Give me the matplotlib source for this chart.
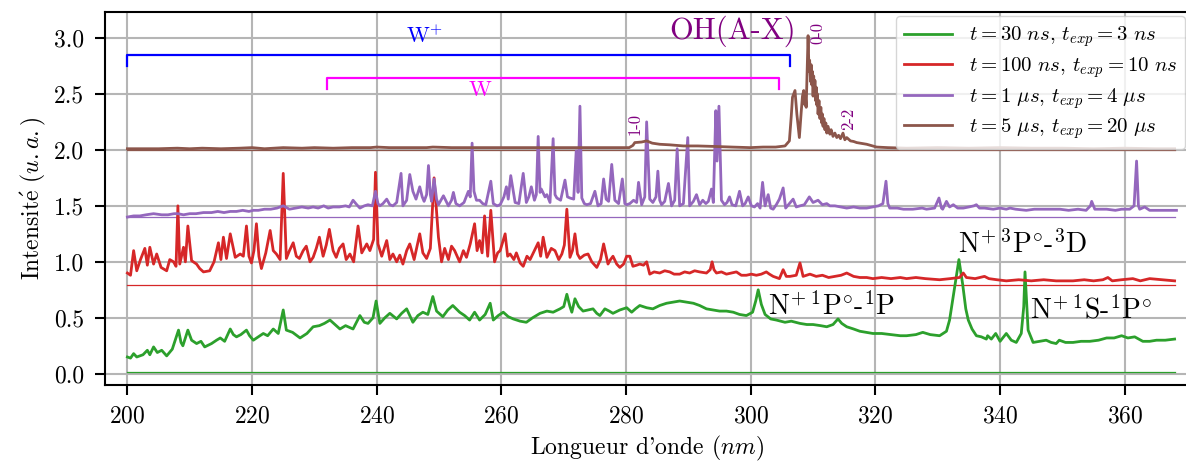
import numpy as np
import matplotlib
matplotlib.use("Agg")
import matplotlib.pyplot as plt

plt.rcParams['font.family'] = ['cmr10', 'DejaVu Serif']
plt.rcParams['mathtext.fontset'] = 'cm'
plt.rcParams['axes.formatter.use_mathtext'] = True

# ── spectra: (wavelength nm, intensity a.u.) ─────────────────────────────────
green = np.array([
    (200.0, 0.15), (200.5, 0.14), (201.0, 0.18), (201.5, 0.15), (202.5, 0.17), (203.2, 0.21),
    (203.6, 0.17), (204.2, 0.24), (204.8, 0.19), (205.5, 0.21), (206.3, 0.16), (207.2, 0.22),
    (208.2, 0.39), (208.6, 0.28), (208.9, 0.25), (209.7, 0.39), (210.3, 0.30), (211.1, 0.27),
    (211.8, 0.29), (212.4, 0.24), (213.5, 0.27), (214.3, 0.30), (214.9, 0.32), (215.6, 0.29),
    (216.5, 0.40), (217.0, 0.35), (217.5, 0.33), (218.2, 0.35), (219.1, 0.39), (219.6, 0.34),
    (220.2, 0.30), (221.0, 0.33), (221.8, 0.36), (222.5, 0.34), (223.4, 0.40), (224.2, 0.36),
    (225.0, 0.57), (225.5, 0.39), (226.5, 0.37), (227.7, 0.32), (228.8, 0.36), (229.8, 0.42),
    (230.8, 0.43), (231.6, 0.45), (232.5, 0.48), (233.3, 0.44), (234.1, 0.40), (235.0, 0.43),
    (236.2, 0.40), (237.3, 0.52), (238.0, 0.46), (238.6, 0.45), (239.4, 0.50), (239.9, 0.65),
    (240.5, 0.45), (241.3, 0.50), (242.1, 0.54), (243.2, 0.49), (244.0, 0.54), (244.8, 0.58),
    (245.8, 0.46), (246.6, 0.52), (247.4, 0.55), (248.2, 0.53), (249.0, 0.69), (249.6, 0.56),
    (250.6, 0.51), (251.4, 0.57), (252.2, 0.61), (253.3, 0.55), (254.1, 0.52), (254.9, 0.48),
    (255.7, 0.55), (256.5, 0.48), (257.4, 0.53), (258.2, 0.63), (258.7, 0.48), (259.5, 0.52),
    (260.3, 0.55), (261.1, 0.51), (261.9, 0.49), (263.0, 0.47), (264.0, 0.46), (265.0, 0.50),
    (266.2, 0.54), (267.3, 0.56), (268.3, 0.55), (269.4, 0.58), (270.0, 0.60), (270.5, 0.71),
    (271.0, 0.60), (271.3, 0.55), (271.8, 0.67), (272.4, 0.60), (273.1, 0.56), (273.9, 0.57),
    (274.7, 0.58), (275.3, 0.54), (275.8, 0.52), (276.6, 0.58), (277.3, 0.56), (277.9, 0.54),
    (279.0, 0.57), (280.1, 0.59), (280.9, 0.55), (281.5, 0.58), (282.2, 0.61), (283.3, 0.59),
    (284.3, 0.58), (285.4, 0.61), (286.5, 0.63), (287.5, 0.64), (288.6, 0.65), (289.7, 0.64),
    (290.8, 0.63), (291.8, 0.61), (292.9, 0.58), (294.0, 0.57), (295.0, 0.56), (296.1, 0.56),
    (297.2, 0.55), (298.2, 0.53), (299.3, 0.52), (300.3, 0.55), (300.8, 0.65), (301.2, 0.75),
    (301.7, 0.62), (302.3, 0.53), (303.2, 0.49), (304.1, 0.48), (305.5, 0.46), (306.5, 0.47),
    (307.9, 0.45), (309.0, 0.44), (310.0, 0.44), (311.2, 0.43), (312.2, 0.42), (313.2, 0.44),
    (314.0, 0.49), (314.6, 0.45), (315.4, 0.42), (316.5, 0.40), (317.5, 0.38), (318.6, 0.37),
    (319.6, 0.36), (321.0, 0.36), (322.5, 0.35), (324.0, 0.34), (325.0, 0.34), (326.5, 0.35),
    (327.6, 0.37), (328.8, 0.35), (330.3, 0.34), (331.4, 0.38), (331.9, 0.48), (332.7, 0.77),
    (333.4, 1.02), (334.0, 0.80), (334.5, 0.58), (334.9, 0.48), (335.5, 0.40), (336.2, 0.34),
    (337.0, 0.33), (337.8, 0.31), (338.0, 0.34), (338.6, 0.31), (339.3, 0.36), (340.0, 0.29),
    (341.0, 0.36), (341.8, 0.30), (342.6, 0.28), (343.4, 0.36), (343.8, 0.60), (344.0, 0.91),
    (344.3, 0.60), (344.5, 0.39), (345.3, 0.28), (346.4, 0.29), (347.4, 0.30), (348.2, 0.28),
    (349.0, 0.27), (349.5, 0.30), (350.5, 0.28), (351.7, 0.28), (353.0, 0.29), (354.4, 0.29),
    (355.8, 0.30), (357.1, 0.32), (358.3, 0.32), (359.5, 0.34), (360.5, 0.32), (361.6, 0.33),
    (362.9, 0.29), (364.0, 0.29), (365.1, 0.30), (366.5, 0.30), (368.0, 0.31),
])

red = np.array([
    (200.0, 0.90), (200.5, 0.88), (201.0, 1.10), (201.5, 0.92), (202.1, 1.02), (202.8, 1.12),
    (203.2, 0.97), (203.6, 1.13), (204.2, 0.98), (204.7, 1.07), (205.4, 0.95), (206.3, 0.92),
    (206.8, 1.02), (207.4, 1.00), (207.8, 0.96), (208.1, 1.50), (208.4, 0.98), (209.0, 1.13),
    (209.3, 1.00), (209.7, 1.32), (210.3, 1.01), (211.1, 0.98), (211.6, 0.94), (212.2, 0.91),
    (213.2, 0.92), (213.9, 1.00), (214.6, 1.17), (215.0, 1.02), (215.4, 1.22), (215.9, 1.03),
    (216.5, 1.25), (217.3, 1.04), (218.1, 1.07), (218.6, 1.05), (219.1, 1.32), (219.5, 1.05),
    (219.9, 0.99), (220.3, 1.10), (220.7, 1.34), (221.1, 1.05), (221.5, 0.94), (222.2, 1.08),
    (222.9, 1.28), (223.4, 1.10), (223.9, 1.07), (224.5, 1.02), (225.0, 1.79), (225.5, 1.03),
    (226.0, 1.10), (226.6, 1.17), (227.1, 1.05), (227.6, 1.03), (228.2, 1.10), (228.7, 1.14),
    (229.3, 1.00), (229.8, 1.04), (230.3, 1.12), (230.8, 1.22), (231.4, 1.05), (231.9, 1.15),
    (232.4, 1.29), (233.0, 1.10), (233.5, 1.04), (234.0, 1.12), (234.6, 1.16), (235.1, 1.02),
    (235.7, 1.07), (236.3, 1.00), (237.0, 1.32), (237.6, 1.08), (238.4, 1.16), (238.9, 1.10),
    (239.5, 1.20), (239.8, 1.80), (240.2, 1.16), (240.8, 1.05), (241.6, 1.19), (242.1, 1.02),
    (242.6, 1.07), (243.2, 1.00), (243.7, 1.06), (244.2, 0.98), (244.8, 1.10), (245.3, 1.16),
    (246.0, 1.02), (246.9, 1.25), (247.4, 1.08), (248.0, 1.03), (248.6, 1.12), (249.2, 1.75),
    (249.9, 1.22), (250.4, 1.00), (250.9, 1.12), (251.5, 1.02), (252.0, 1.14), (252.5, 1.10),
    (253.3, 1.00), (253.9, 1.10), (254.4, 1.04), (255.0, 1.16), (255.7, 1.34), (256.1, 1.10),
    (256.5, 1.19), (256.9, 1.08), (257.3, 1.41), (257.8, 1.05), (258.3, 1.46), (258.9, 1.00),
    (259.4, 1.08), (259.8, 1.10), (260.6, 1.25), (261.0, 1.05), (261.4, 1.07), (262.0, 1.02),
    (262.4, 1.08), (263.0, 0.99), (263.5, 0.96), (264.1, 1.05), (264.6, 1.02), (265.3, 1.10),
    (265.9, 1.17), (266.3, 1.05), (266.7, 1.22), (267.3, 1.04), (268.0, 1.12), (268.6, 1.10),
    (269.2, 1.02), (269.7, 1.07), (270.1, 1.15), (270.5, 1.47), (271.0, 1.04), (271.4, 1.10),
    (271.8, 1.25), (272.2, 1.07), (272.6, 1.03), (273.3, 1.06), (273.9, 1.07), (274.5, 1.00),
    (275.3, 0.95), (275.9, 1.02), (276.4, 1.16), (277.1, 0.98), (277.5, 1.02), (277.9, 1.05),
    (278.5, 0.98), (279.0, 0.95), (279.6, 0.98), (280.1, 1.05), (280.6, 1.05), (281.1, 0.96),
    (281.7, 0.97), (282.2, 0.98), (282.8, 0.97), (283.3, 1.00), (283.8, 0.89), (284.5, 0.91),
    (285.4, 0.90), (286.2, 0.92), (287.0, 0.91), (287.7, 0.89), (288.6, 0.89), (289.4, 0.91),
    (290.2, 0.90), (291.0, 0.92), (291.8, 0.91), (292.9, 0.90), (293.5, 0.93), (293.8, 1.00),
    (294.1, 0.93), (294.5, 0.90), (295.3, 0.91), (296.1, 0.89), (296.9, 0.90), (297.7, 0.91),
    (298.5, 0.88), (299.3, 0.88), (300.1, 0.89), (300.9, 0.88), (301.7, 0.89), (302.5, 0.91),
    (303.0, 0.89), (303.6, 0.87), (304.6, 0.85), (305.2, 0.93), (305.7, 0.87), (306.3, 0.87),
    (307.3, 0.88), (307.9, 0.99), (308.4, 0.87), (309.5, 0.89), (310.5, 0.87), (311.5, 0.88),
    (312.5, 0.86), (313.5, 0.87), (314.5, 0.88), (315.4, 0.90), (316.5, 0.87), (317.5, 0.86),
    (318.6, 0.86), (319.6, 0.85), (321.0, 0.86), (322.5, 0.85), (324.0, 0.86), (325.0, 0.85),
    (326.5, 0.86), (328.0, 0.85), (330.3, 0.84), (332.0, 0.85), (333.5, 0.86), (334.1, 0.90),
    (334.6, 0.86), (336.0, 0.85), (337.5, 0.87), (338.2, 0.85), (339.5, 0.84), (341.0, 0.83),
    (343.0, 0.84), (345.0, 0.83), (347.0, 0.84), (349.0, 0.83), (351.7, 0.83), (353.5, 0.84),
    (355.0, 0.83), (356.5, 0.84), (357.3, 0.86), (358.0, 0.83), (359.5, 0.84), (361.3, 0.85),
    (362.5, 0.83), (364.0, 0.85), (366.0, 0.84), (368.0, 0.83),
])

purple = np.array([
    (200.0, 1.40), (201.0, 1.41), (202.0, 1.41), (203.0, 1.42), (204.2, 1.43), (205.5, 1.42),
    (206.5, 1.42), (207.5, 1.43), (208.1, 1.43), (209.0, 1.42), (210.0, 1.43), (211.0, 1.43),
    (212.2, 1.44), (213.5, 1.44), (214.5, 1.45), (215.5, 1.44), (216.5, 1.45), (217.5, 1.45),
    (218.5, 1.46), (219.5, 1.45), (220.2, 1.46), (221.0, 1.46), (222.0, 1.47), (223.0, 1.47),
    (224.0, 1.48), (225.0, 1.50), (226.0, 1.47), (227.0, 1.48), (228.0, 1.49), (229.0, 1.48),
    (229.8, 1.49), (230.6, 1.48), (231.5, 1.50), (232.2, 1.48), (233.0, 1.49), (234.0, 1.49),
    (235.0, 1.50), (235.6, 1.49), (236.2, 1.55), (236.8, 1.51), (237.3, 1.48), (238.0, 1.50),
    (238.6, 1.51), (239.3, 1.50), (239.8, 1.63), (240.2, 1.52), (240.5, 1.50), (241.0, 1.52),
    (241.6, 1.56), (242.1, 1.51), (242.6, 1.50), (243.2, 1.53), (243.9, 1.79), (244.2, 1.50),
    (244.8, 1.55), (245.3, 1.78), (245.8, 1.63), (246.3, 1.56), (246.9, 1.67), (247.3, 1.58),
    (247.6, 1.54), (248.0, 1.60), (248.3, 1.86), (248.6, 1.60), (248.8, 1.54), (249.2, 1.74),
    (249.6, 1.56), (249.9, 1.51), (250.7, 1.59), (251.5, 1.50), (252.0, 1.55), (252.3, 1.62),
    (252.7, 1.52), (253.3, 1.50), (254.0, 1.53), (254.7, 1.63), (255.0, 1.58), (255.3, 2.06),
    (255.6, 1.63), (256.0, 1.55), (256.5, 1.55), (257.0, 1.52), (257.5, 1.51), (258.3, 1.72),
    (258.7, 1.52), (259.3, 1.50), (259.8, 1.51), (260.4, 1.58), (260.8, 1.67), (261.1, 1.56),
    (261.5, 1.77), (262.2, 1.53), (262.8, 1.52), (263.5, 1.79), (264.0, 1.53), (264.4, 1.58),
    (264.8, 1.67), (265.3, 1.55), (265.6, 1.60), (265.9, 2.12), (266.2, 1.62), (266.4, 1.65),
    (267.0, 1.58), (267.3, 1.60), (267.8, 1.53), (268.3, 2.10), (268.6, 1.60), (268.9, 1.57),
    (269.5, 1.55), (270.2, 1.73), (270.6, 1.58), (271.0, 1.57), (271.6, 1.56), (272.0, 1.99),
    (272.3, 1.62), (272.6, 2.39), (272.9, 1.57), (273.3, 1.52), (273.7, 1.51), (274.3, 1.52),
    (275.0, 1.63), (275.5, 1.50), (276.0, 1.52), (276.4, 1.74), (276.8, 1.56), (277.2, 1.54),
    (277.7, 1.87), (278.2, 1.55), (278.8, 1.52), (279.4, 1.74), (279.8, 1.52), (280.1, 1.51),
    (280.6, 1.52), (281.2, 1.55), (281.7, 1.53), (282.0, 1.71), (282.5, 1.51), (283.0, 1.58),
    (283.3, 2.25), (283.8, 1.56), (284.3, 1.53), (284.8, 1.58), (285.1, 1.81), (285.4, 1.55),
    (285.7, 1.51), (286.2, 1.54), (286.8, 1.70), (287.3, 1.50), (287.8, 1.55), (288.2, 2.01),
    (288.6, 1.50), (289.2, 1.52), (289.9, 2.11), (290.2, 1.50), (290.8, 1.54), (291.3, 1.60),
    (291.8, 1.51), (292.3, 1.55), (292.8, 1.52), (293.2, 1.54), (293.7, 1.65), (294.0, 1.53),
    (294.4, 2.35), (294.6, 1.90), (294.9, 2.39), (295.3, 1.55), (295.8, 1.51), (296.2, 1.53),
    (296.6, 1.58), (297.0, 1.51), (297.6, 1.50), (298.2, 1.63), (298.7, 1.50), (299.1, 1.52),
    (299.6, 1.58), (300.1, 1.50), (300.6, 1.49), (301.1, 1.52), (301.5, 1.48), (301.9, 1.71),
    (302.3, 1.50), (302.8, 1.60), (303.2, 1.48), (303.6, 1.47), (304.1, 1.51), (304.6, 1.56),
    (305.2, 1.66), (305.6, 1.48), (306.2, 1.52), (306.8, 1.56), (307.3, 1.49), (307.9, 1.50),
    (308.6, 1.51), (309.4, 1.58), (310.0, 1.53), (310.8, 1.55), (311.5, 1.51), (312.2, 1.52),
    (312.7, 1.50), (313.5, 1.50), (314.5, 1.49), (315.4, 1.48), (316.5, 1.49), (317.5, 1.48),
    (318.6, 1.48), (319.6, 1.49), (320.5, 1.50), (321.2, 1.52), (321.7, 1.72), (322.0, 1.52),
    (322.3, 1.48), (323.5, 1.48), (324.5, 1.47), (326.0, 1.47), (327.5, 1.48), (328.2, 1.47),
    (329.5, 1.48), (330.2, 1.57), (330.6, 1.48), (330.8, 1.47), (331.4, 1.54), (331.9, 1.49),
    (332.5, 1.51), (333.2, 1.48), (334.1, 1.48), (335.0, 1.49), (335.8, 1.50), (336.2, 1.51),
    (336.7, 1.48), (337.5, 1.48), (338.9, 1.47), (340.0, 1.48), (341.0, 1.47), (341.6, 1.48),
    (342.5, 1.47), (344.2, 1.46), (345.5, 1.47), (347.0, 1.47), (348.5, 1.47), (349.6, 1.47),
    (351.0, 1.46), (352.5, 1.47), (353.8, 1.46), (354.5, 1.50), (354.7, 1.54), (355.2, 1.47),
    (356.0, 1.47), (357.1, 1.47), (358.5, 1.46), (359.5, 1.47), (360.8, 1.47), (361.5, 1.50),
    (361.9, 1.90), (362.2, 1.50), (362.4, 1.47), (363.2, 1.49), (364.0, 1.46), (365.5, 1.46),
    (367.0, 1.46), (368.3, 1.46),
])

brown = np.array([
    (200.0, 2.01), (202.0, 2.01), (205.0, 2.01), (208.0, 2.015), (210.0, 2.01), (212.0, 2.015),
    (215.0, 2.01), (218.0, 2.015), (220.0, 2.02), (222.0, 2.01), (225.0, 2.02), (228.0, 2.015),
    (230.0, 2.02), (233.0, 2.015), (236.0, 2.02), (239.0, 2.02), (240.0, 2.025), (242.0, 2.02),
    (245.0, 2.02), (248.0, 2.02), (249.0, 2.025), (252.0, 2.02), (255.0, 2.02), (258.0, 2.02),
    (260.0, 2.02), (263.0, 2.02), (266.0, 2.02), (269.0, 2.02), (272.0, 2.02), (275.0, 2.02),
    (278.0, 2.02), (280.5, 2.02), (281.1, 2.04), (281.4, 2.065), (282.5, 2.07), (283.3, 2.08),
    (284.2, 2.06), (285.4, 2.05), (287.0, 2.045), (289.2, 2.035), (291.5, 2.035), (294.5, 2.03),
    (297.0, 2.025), (299.9, 2.02), (302.0, 2.025), (304.0, 2.025), (305.5, 2.035), (306.2, 2.08),
    (306.5, 2.30), (306.7, 2.47), (307.1, 2.53), (307.4, 2.32), (307.8, 2.11), (308.1, 2.34),
    (308.3, 2.48), (308.5, 2.53), (308.7, 2.40), (308.8, 2.46), (308.9, 2.38), (309.0, 2.60),
    (309.2, 3.02), (309.35, 2.70), (309.45, 2.80), (309.6, 2.61), (309.7, 2.76), (309.8, 2.58),
    (309.9, 2.70), (310.0, 2.48), (310.1, 2.66), (310.2, 2.50), (310.3, 2.62), (310.4, 2.44),
    (310.5, 2.56), (310.6, 2.40), (310.7, 2.50), (310.8, 2.32), (310.95, 2.44), (311.1, 2.28),
    (311.25, 2.38), (311.4, 2.24), (311.5, 2.32), (311.6, 2.21), (311.75, 2.28), (311.9, 2.18),
    (312.05, 2.24), (312.2, 2.15), (312.4, 2.21), (312.7, 2.14), (312.9, 2.18), (313.2, 2.12),
    (313.5, 2.15), (313.8, 2.11), (314.1, 2.13), (314.4, 2.10), (314.8, 2.15), (315.1, 2.09),
    (315.4, 2.11), (316.0, 2.08), (316.5, 2.075), (317.0, 2.065), (318.6, 2.05), (320.2, 2.025),
    (322.0, 2.02), (325.0, 2.015), (330.0, 2.02), (335.0, 2.015), (340.0, 2.02), (345.0, 2.015),
    (350.0, 2.015), (355.0, 2.01), (360.0, 2.015), (365.0, 2.01), (368.0, 2.01),
])

series = [green, red, purple, brown]
offsets = [0.02, 0.79, 1.40, 2.00]          # thin reference lines under each spectrum
colors = ['#2ca02c', '#d62728', '#9467bd', '#8c564b']
labels = [r'$t = 30\ ns$, $t_{exp} = 3\ ns$',
          r'$t = 100\ ns$, $t_{exp} = 10\ ns$',
          r'$t = 1\ \mu s$, $t_{exp} = 4\ \mu s$',
          r'$t = 5\ \mu s$, $t_{exp} = 20\ \mu s$']

fig = plt.figure(figsize=(11.86, 4.62), dpi=100)
ax = fig.add_axes([0.0885, 0.1667, 0.9145, 0.807])

for s, off, c, lab in zip(series, offsets, colors, labels):
    ax.plot(s[:, 0], s[:, 1], color=c, lw=2.0, label=lab, zorder=3)
    ax.plot([200, 368], [off, off], color=c, lw=0.9, zorder=2)

# ── band brackets ────────────────────────────────────────────────────────────
ax.plot([200, 200, 306.3, 306.3], [2.75, 2.85, 2.85, 2.75], color='blue', lw=1.6)
ax.plot([232, 232, 304.5, 304.5], [2.54, 2.64, 2.64, 2.54], color='magenta', lw=1.6)
ax.text(247.7, 3.02, 'W$^{+}$', color='blue', fontsize=16, ha='center', va='center')
ax.text(256.5, 2.53, 'W', color='magenta', fontsize=16, ha='center', va='center')

oh = '#800080'
ax.text(297.1, 3.06, 'OH(A-X)', color=oh, fontsize=22, ha='center', va='center')
ax.text(310.7, 3.04, '0-0', color=oh, fontsize=12, rotation=90, ha='center', va='center')
ax.text(281.4, 2.23, '1-0', color=oh, fontsize=12, rotation=90, ha='center', va='center')
ax.text(315.6, 2.28, '2-2', color=oh, fontsize=12, rotation=90, ha='center', va='center')

ax.text(302.7, 0.60, r'N$^{+\ 1}$P$^{\circ}$-$^{1}$P', fontsize=20, va='center')
ax.text(333.2, 1.15, r'N$^{+\ 3}$P$^{\circ}$-$^{3}$D', fontsize=20, va='center')
ax.text(344.8, 0.565, r'N$^{+\ 1}$S-$^{1}$P$^{\circ}$', fontsize=20, va='center')

ax.set_xlim(196.4, 370.4)
ax.set_ylim(-0.10, 3.23)
ax.set_xticks(np.arange(200, 361, 20))
ax.set_yticks(np.arange(0, 3.01, 0.5))
ax.yaxis.set_major_formatter(matplotlib.ticker.FormatStrFormatter('%.1f'))
ax.grid(True, color='#b5b5b5', lw=1.5, zorder=0)
ax.set_axisbelow(True)
ax.tick_params(labelsize=17, length=7, width=1.5, direction='out', pad=8)
for sp in ax.spines.values():
    sp.set_linewidth(1.5)

ax.set_xlabel(r"Longueur d'onde ($nm$)", fontsize=17)
ax.set_ylabel(r'Intensit$\mathrm{\acute{e}}$ ($u{.}a{.}$)', fontsize=17)
ax.legend(loc='upper right', fontsize=15, handlelength=2.3, labelspacing=0.28,
          borderaxespad=0.2)

fig.savefig('out.png', dpi=100)
